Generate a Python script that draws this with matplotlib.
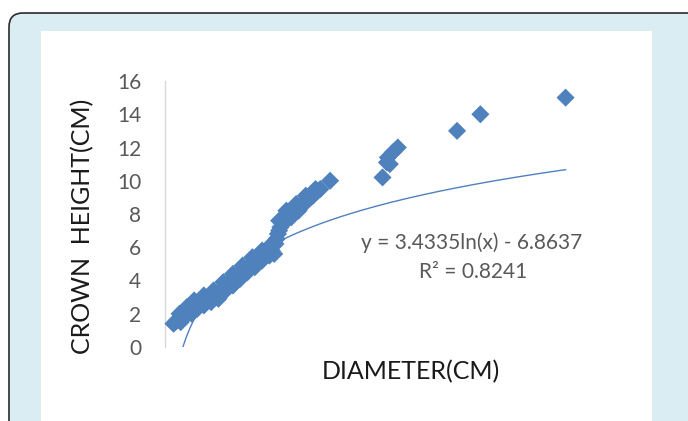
import numpy as np
import matplotlib
matplotlib.use("Agg")
import matplotlib.pyplot as plt
from matplotlib.patches import FancyBboxPatch, Rectangle
from matplotlib.transforms import IdentityTransform

# diameter (cm) and crown height (cm)
diameter = [3.5, 4.2, 5.0, 5.8, 6.5, 7.2, 8.0, 8.8, 9.5, 10.3, 11.0, 11.8, 12.5,
            13.3, 14.0, 15.0, 16.0, 17.0, 18.0, 19.0, 20.0, 21.0, 22.0, 23.0,
            24.0, 25.0, 26.0, 27.0, 28.0, 29.0, 30.0, 31.0, 32.0, 33.0, 34.0,
            35.0, 36.0, 37.0, 38.0, 39.0, 40.0, 41.0, 42.0, 43.0, 44.0, 45.0,
            45.5, 46.0, 46.5, 47.0, 47.5, 48.0, 48.5, 49.0, 50.0, 51.0, 52.0,
            53.0, 54.0, 55.0, 56.0, 57.0, 58.0, 59.0, 60.0, 61.0, 62.0, 63.0,
            64.0, 68.0, 89.6, 91.4, 92.6, 91.8, 93.8, 95.9, 120.3, 129.9, 165.0,
            6.0, 9.0, 12.0, 16.0, 20.0, 24.0, 28.0, 32.0, 36.0, 40.0, 44.0,
            47.0, 50.0, 54.0, 58.0, 62.0]
crown_height = [1.4, 1.5, 1.6, 1.7, 1.5, 1.9, 2.0, 1.9, 2.1, 2.2, 2.0, 2.4, 2.5,
                2.3, 2.6, 2.7, 2.5, 2.8, 2.9, 2.7, 3.0, 3.1, 2.9, 3.3,
                3.5, 3.4, 3.8, 3.9, 3.7, 4.2, 4.3, 4.1, 4.6, 4.7, 4.5,
                4.9, 5.0, 4.8, 5.3, 5.4, 5.2, 5.7, 5.6, 5.5, 5.8, 5.6,
                6.2, 6.5, 6.8, 7.0, 7.2, 7.5, 7.7, 7.8, 7.6, 8.0, 7.8,
                8.1, 8.3, 8.2, 8.5, 8.6, 8.7, 8.9, 9.0, 9.1, 9.3, 9.4,
                9.5, 10.0, 10.2, 11.1, 11.0, 11.4, 11.7, 12.0, 13.0, 14.0, 15.0,
                2.0, 2.4, 2.8, 3.1, 3.4, 3.9, 4.4, 4.9, 5.4, 5.8, 6.2,
                7.6, 8.2, 8.6, 9.1, 9.5]
yticks = [0, 2, 4, 6, 8, 10, 12, 14, 16]

# Excel log trendline shown on the chart
A_COEF, B_COEF = 3.4335, -6.8637
EQ_TEXT = "y = 3.4335ln(x) - 6.8637"
R2_TEXT = "R\u00b2 = 0.8241"

BLUE = "#4f81bd"
GRAY = "#595959"
FONT = ["Lato", "DejaVu Sans"]

W, H = 688, 421
fig = plt.figure(figsize=(W / 100, H / 100), dpi=100, facecolor="white")

# frame: light blue rounded card, white chart area inside
card = FancyBboxPatch((9, -30), 720, H - 13 + 30,
                      boxstyle="round,pad=0,rounding_size=14",
                      transform=IdentityTransform(), facecolor="#d9edf2",
                      edgecolor="#2b2b2b", linewidth=1.2, zorder=-2)
fig.patches.append(card)
inner = Rectangle((41, -5), 611, H - 31 + 5, transform=IdentityTransform(),
                  facecolor="white", edgecolor="none", zorder=-1)
fig.patches.append(inner)

ax = fig.add_axes([165 / W, 74 / H, 437 / W, 266 / H])
ax.set_zorder(1)
ax.set_facecolor("none")
ax.set_xlim(0, 180)
ax.set_ylim(0, 16)

ax.scatter(diameter, crown_height, marker="D", s=85, color=BLUE,
           edgecolors="none", zorder=3, clip_on=False)

xs = np.linspace(min(diameter), max(diameter), 400)
ax.plot(xs, A_COEF * np.log(xs) + B_COEF, color=BLUE, lw=1.0, zorder=2)

for s in ["top", "right", "bottom"]:
    ax.spines[s].set_visible(False)
ax.spines["left"].set_color("#d9d9d9")
ax.spines["left"].set_linewidth(1.0)
ax.set_xticks([])
ax.set_yticks(yticks)
ax.tick_params(axis="y", length=0, pad=17, labelsize=15, labelcolor=GRAY)
for lab in ax.get_yticklabels():
    lab.set_family(FONT)

fig.text(82.5 / W, 1 - 226 / H, "CROWN  HEIGHT(CM)", rotation=90,
         ha="center", va="center", fontsize=18, color="#1a1a1a", family=FONT)
fig.text(411 / W, 1 - 372 / H, "DIAMETER(CM)", ha="center", va="center",
         fontsize=18, color="#1a1a1a", family=FONT)
fig.text(472 / W, 1 - 243 / H, EQ_TEXT, ha="center", va="center",
         fontsize=15, color=GRAY, family=FONT)
fig.text(473 / W, 1 - 272 / H, R2_TEXT, ha="center", va="center",
         fontsize=15, color=GRAY, family=FONT)

fig.savefig("out.png", dpi=100, facecolor="white")
